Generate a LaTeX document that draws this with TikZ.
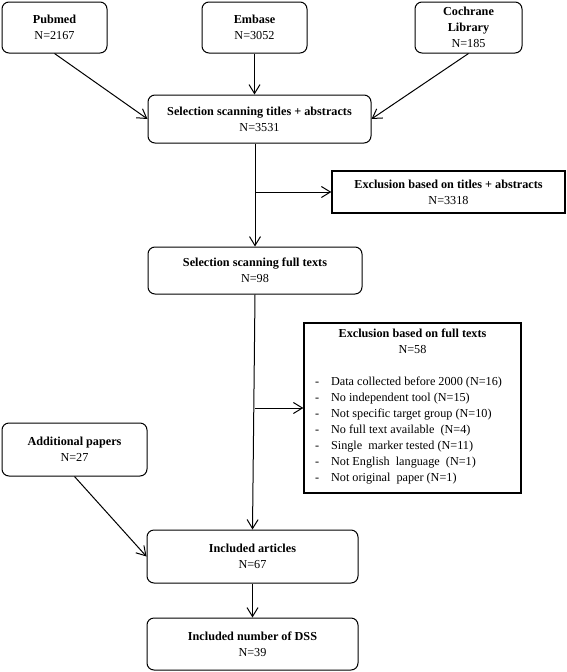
\documentclass[tikz,border=0pt]{standalone}
\usepackage{fontspec}
\setmainfont{Liberation Serif}
\usetikzlibrary{arrows.meta}

\begin{document}
\begin{tikzpicture}[x=1pt,y=-1pt,->,>={Straight Barb[length=9pt,width=11pt]},line width=1pt,
                    src node/.style={draw,rounded corners=7pt,align=center,inner sep=2pt,font=\fontsize{12.2}{16}\selectfont},
                    excl node/.style={draw,line width=1.3pt,align=center,inner sep=2pt,font=\fontsize{12.2}{16}\selectfont}]
                    \useasboundingbox (0,0) rectangle (567,672);

                    \node[src node,minimum width=105pt,minimum height=51pt] (pubmed) at (54.5,27.5){\textbf{Pubmed}\\N=2167};
                    \node[src node,minimum width=105pt,minimum height=51pt] (embase) at (254.5,27.5){\textbf{Embase}\\N=3052};
                    \node[src node,minimum width=107pt,minimum height=51pt] (cochrane) at (468.5,27.5){\textbf{Cochrane}\\\textbf{Library}\\N=185};

                    \node[src node,minimum width=223pt,minimum height=48pt] (seltitles) at (259.5,119){\textbf{Selection scanning titles + abstracts}\\N=3531};
                    \node[excl node,minimum width=233pt,minimum height=42pt] (excltitles) at (448.5,192){\textbf{Exclusion based on titles + abstracts}\\N=3318};

                    \node[src node,minimum width=214pt,minimum height=47pt] (selfull) at (255,270.5){\textbf{Selection scanning full texts}\\N=98};
                    \node[excl node,minimum width=217pt,minimum height=170pt] (exclfull) at (412.5,408){\textbf{Exclusion based on full texts}\\N=58\\ \\
                        \hspace*{-8pt}\begin{tabular}[t]{@{}l@{\hspace{12pt}}l@{}}
                        - & Data collected before 2000 (N=16)\\
                        - & No independent tool (N=15)\\
                        - & Not specific target group (N=10)\\
                        - & No full text available \ (N=4)\\
                        - & Single \ marker tested (N=11)\\
                        - & Not English \ language \ (N=1)\\
                        - & Not original \ paper (N=1)
                        \end{tabular}};

                    \node[src node,minimum width=145pt,minimum height=53pt] (additional) at (74.5,449.5){\textbf{Additional papers}\\N=27};
                    \node[src node,minimum width=211pt,minimum height=53pt] (inclarticles) at (252.5,556.5){\textbf{Included articles}\\N=67};
                    \node[src node,minimum width=211pt,minimum height=52pt] (incldss) at (252.5,644){\textbf{Included number of DSS}\\N=39};

                    \path
                        (pubmed.south) edge (seltitles.west)
                        (embase.south) edge (embase.south |- seltitles.north)
                        (cochrane.south) edge (seltitles.east)

                        (seltitles.south -| selfull.north) edge (selfull.north)
                        (selfull.north |- excltitles.west) edge (excltitles.west)

                        (selfull.south) edge (inclarticles.north)
                        (selfull.south |- exclfull.west) edge (exclfull.west)

                        (additional.south) edge (inclarticles.west)
                        (inclarticles.south) edge (incldss.north)
                        ;
                \end{tikzpicture}
\end{document}
